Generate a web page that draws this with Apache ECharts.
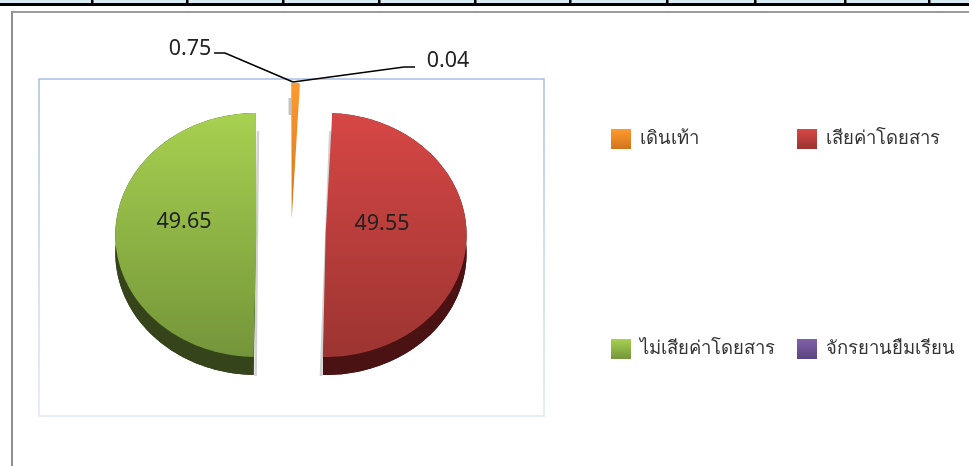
<!DOCTYPE html>
<html><head><meta charset="utf-8">
<style>html,body{margin:0;padding:0;background:#fff}#c{width:969px;height:466px}</style>
<script src="https://cdn.jsdelivr.net/npm/echarts@6/dist/echarts.min.js"></script>
</head><body><div id="c"></div>
<script>
const categories = ['เดินเท้า', 'เสียค่าโดยสาร', 'ไม่เสียค่าโดยสาร', 'จักรยานยืมเรียน'];
const values = [0.75, 49.55, 49.65, 0.04];
const FONT = '"Noto Sans","Open Sans",sans-serif';
const topColors = ['#ff9a2e', '#d64745', '#a7d150', '#8260a8'];
const bottomColors = ['#d0741c', '#9c3431', '#74953a', '#5c4580'];
const wallColors = ['#a85d14', '#4a1212', '#35441a', '#3f2f58'];
// exploded position of each slice
const sliceLayout = [
  {cx: 291.7, cy: 219, rx: 175, ry: 136, depth: 0},
  {cx: 325.6, cy: 235, rx: 141, ry: 122, depth: 18, shadow: -2},
  {cx: 256.3, cy: 235, rx: 141, ry: 122, depth: 18, shadow: 2},
  {cx: 291.7, cy: 219, rx: 175, ry: 136, depth: 0}
];
// where each value's text sits; leader is optional
const labelLayout = [
  {x: 190, y: 49, leader: [[214, 53], [225, 53], [293, 82]]},
  {x: 382, y: 224},
  {x: 184, y: 222},
  {x: 448, y: 61, leader: [[415, 67], [404, 67], [293, 82]]}
];
const legendLayout = [
  {left: 611, top: 129}, {left: 797, top: 129}, {left: 611, top: 339}, {left: 797, top: 339}
];
const total = values.reduce((a, b) => a + b, 0);
function grad(a, b) {
  return new echarts.graphic.LinearGradient(0, 0, 0, 1, [{offset: 0, color: a}, {offset: 1, color: b}]);
}
function renderSlice(i) {
  return function () {
    const before = values.slice(0, i).reduce((a, b) => a + b, 0);
    const a0 = before / total * Math.PI * 2;
    const a1 = (before + values[i]) / total * Math.PI * 2;
    const L = sliceLayout[i];
    const pts = [[L.cx, L.cy]];
    const steps = 90;
    for (let k = 0; k <= steps; k++) {
      const a = a0 + (a1 - a0) * k / steps;
      pts.push([L.cx + L.rx * Math.sin(a), L.cy - L.ry * Math.cos(a)]);
    }
    const children = [];
    if (L.depth) {
      const off = pts.map(p => [p[0], p[1] + L.depth]);
      children.push({type: 'polygon', shape: {points: off}, style: {fill: wallColors[i]}});
      const band = [];
      pts.slice(1).forEach(p => band.push(p));
      off.slice(1).reverse().forEach(p => band.push(p));
      children.push({type: 'polygon', shape: {points: band}, style: {fill: wallColors[i]}});
      const first = pts[1], last = pts[pts.length - 1];
      const up = first[1] < last[1] ? first : last, down = first[1] < last[1] ? last : first;
      children.push({type: 'polyline', shape: {points: [[up[0] + L.shadow, up[1] + 18], [down[0] + L.shadow, down[1] + L.depth + 1]]},
        style: {stroke: '#d2d2d2', lineWidth: 2.5, fill: null}});
    } else if (i === 0) {
      children.push({type: 'rect', shape: {x: 288.5, y: 98, width: 4, height: 17}, style: {fill: '#c4c4c4'}});
    }
    children.push({type: 'polygon', shape: {points: pts}, style: {fill: grad(topColors[i], bottomColors[i])}});
    const T = labelLayout[i];
    if (T.leader) {
      children.push({type: 'polyline', shape: {points: T.leader}, style: {stroke: '#000', lineWidth: 1.6, fill: null}});
    }
    children.push({type: 'text', style: {x: T.x, y: T.y, text: String(values[i]), fill: '#222', font: '21.5px ' + FONT, align: 'center', verticalAlign: 'middle'}});
    return {type: 'group', children};
  };
}
const chart = echarts.init(document.getElementById('c'), null, {renderer: 'canvas'});
const tableTicks = [92, 187, 283, 379, 475, 570, 667, 755, 845, 929];
const deco = [
  {type: 'rect', shape: {x: 0, y: 0, width: 969, height: 3}, style: {fill: '#d6ebf3'}},
  {type: 'rect', shape: {x: 0, y: 3, width: 969, height: 3}, style: {fill: '#000'}},
  {type: 'rect', shape: {x: 11, y: 11, width: 958, height: 2}, style: {fill: '#9c9c9c'}},
  {type: 'rect', shape: {x: 11, y: 11, width: 2, height: 455}, style: {fill: '#8f8f8f'}},
  {type: 'rect', shape: {x: 39, y: 79, width: 505, height: 337},
    style: {fill: 'transparent', lineWidth: 1.5, stroke: new echarts.graphic.LinearGradient(0, 0, 0, 1, [{offset: 0, color: '#a6bde2'}, {offset: 1, color: '#e0e8f5'}])}}
].concat(tableTicks.map(x => ({type: 'rect', shape: {x: x - 1, y: 0, width: 2.5, height: 4}, style: {fill: '#000'}})));
chart.setOption({
  animation: false,
  backgroundColor: '#fff',
  graphic: {elements: deco.map(d => Object.assign({silent: true, z: -10}, d))},
  legend: categories.map((name, i) => ({
    data: [name],
    left: legendLayout[i].left,
    top: legendLayout[i].top,
    orient: 'horizontal',
    selectedMode: false,
    icon: 'rect',
    itemWidth: 20,
    itemHeight: 20,
    itemGap: 0,
    padding: [0, 0, 0, 0],
    textStyle: {fontFamily: FONT, fontSize: 18.5, color: '#333', padding: [0, 0, 0, 4]}
  })),
  series: categories.map((name, i) => ({
    type: 'custom',
    name,
    coordinateSystem: 'none',
    data: [values[i]],
    renderItem: renderSlice(i),
    itemStyle: {color: grad(topColors[i], bottomColors[i])},
    silent: true,
    z: i === 0 ? 3 : 2
  }))
});
</script></body></html>
